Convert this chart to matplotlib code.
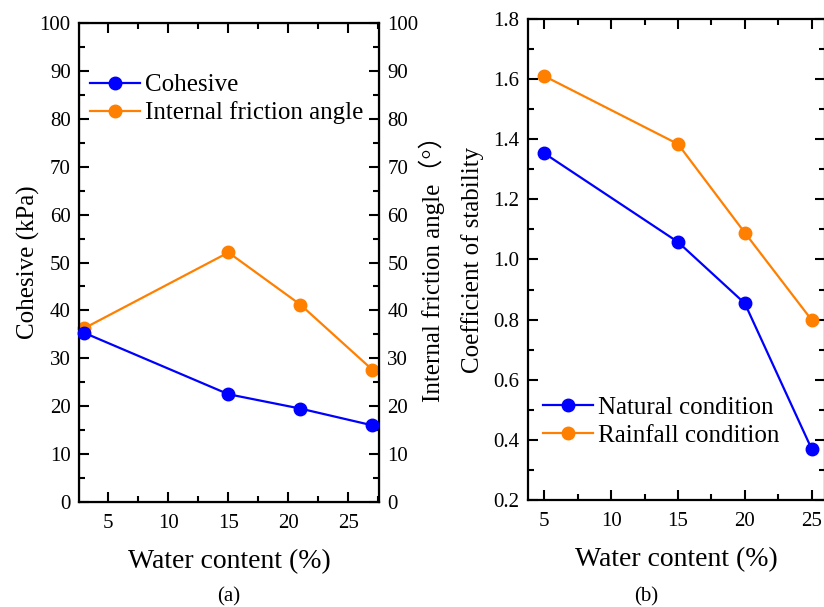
import matplotlib
matplotlib.use("Agg")
import matplotlib.pyplot as plt
from matplotlib.ticker import MultipleLocator

plt.rcParams['font.family'] = ['Liberation Serif', 'Noto Sans CJK SC', 'DejaVu Sans']

# panel (a)
water_a = [3, 15, 21, 27]
cohesive = [35.3, 22.5, 19.5, 16.0]
friction = [36.3, 52.1, 41.2, 27.6]

# panel (b)
water_b = [5, 15, 20, 25]
natural = [1.353, 1.058, 0.854, 0.370]
rainfall = [1.610, 1.384, 1.089, 0.799]

BLUE = '#0000FF'
ORANGE = '#FF8000'


def style_ticks(ax, left=True, right=True):
    ax.tick_params(which='both', direction='in', top=True, bottom=True,
                   left=left, right=right, labelsize=15, width=1.5, pad=6)
    ax.tick_params(which='major', length=7)
    ax.tick_params(which='minor', length=4)
    for s in ax.spines.values():
        s.set_linewidth(1.6)


fig = plt.figure(figsize=(8.24, 6.07), dpi=100)

ax1 = fig.add_axes([0.0959, 0.173, 0.3641, 0.789])
ax1.plot(water_a, cohesive, '-o', color=BLUE, lw=1.6, ms=9, label='Cohesive', clip_on=False, zorder=3)
ax1.plot([], [], '-o', color=ORANGE, lw=1.6, ms=9, label='Internal friction angle')
ax1.set_xlim(2.55, 27.55)
ax1.set_ylim(0, 100)
ax1.xaxis.set_major_locator(MultipleLocator(5))
ax1.xaxis.set_minor_locator(MultipleLocator(2.5))
ax1.yaxis.set_major_locator(MultipleLocator(10))
ax1.yaxis.set_minor_locator(MultipleLocator(5))
style_ticks(ax1, left=True, right=False)
ax1.tick_params(axis='x', pad=9)
ax1.set_ylabel('Cohesive (kPa)', fontsize=18, labelpad=0)
ax1.set_xlabel('Water content (%)', fontsize=20, labelpad=11)
ax1.legend(loc='upper left', bbox_to_anchor=(-0.015, 0.925), frameon=False, fontsize=18,
           handlelength=2.0, handletextpad=0.2, borderaxespad=0.2, labelspacing=0.2)

ax1b = ax1.twinx()
ax1b.plot(water_a, friction, '-o', color=ORANGE, lw=1.6, ms=9, clip_on=False, zorder=3)
ax1b.set_ylim(0, 100)
ax1b.yaxis.set_major_locator(MultipleLocator(10))
ax1b.yaxis.set_minor_locator(MultipleLocator(5))
ax1b.tick_params(which='both', direction='in', left=False, right=True, labelsize=15, width=1.5, pad=6)
ax1b.tick_params(which='major', length=7)
ax1b.tick_params(which='minor', length=4)
ax1b.set_ylabel('Internal friction angle（°）', fontsize=18, labelpad=0)
ax1.set_zorder(ax1b.get_zorder() + 1)
ax1.patch.set_visible(False)

ax2 = fig.add_axes([0.6404, 0.1763, 0.3608, 0.7924])
ax2.plot(water_b, natural, '-o', color=BLUE, lw=1.6, ms=9, label='Natural condition', clip_on=False)
ax2.plot(water_b, rainfall, '-o', color=ORANGE, lw=1.6, ms=9, label='Rainfall condition', clip_on=False)
ax2.set_xlim(3.75, 26.0)
ax2.set_ylim(0.2, 1.8)
ax2.xaxis.set_major_locator(MultipleLocator(5))
ax2.xaxis.set_minor_locator(MultipleLocator(2.5))
ax2.yaxis.set_major_locator(MultipleLocator(0.2))
ax2.yaxis.set_minor_locator(MultipleLocator(0.1))
ax2.yaxis.set_major_formatter(plt.FormatStrFormatter('%.1f'))
style_ticks(ax2)
ax2.tick_params(axis='x', pad=9)
ax2.set_ylabel('Coefficient of stability', fontsize=18, labelpad=7)
ax2.set_xlabel('Water content (%)', fontsize=20, labelpad=11)
ax2.legend(loc='lower left', bbox_to_anchor=(0.0, 0.08), frameon=False, fontsize=18,
           handlelength=2.0, handletextpad=0.2, borderaxespad=0.2, labelspacing=0.2)

fig.text(229 / 824, 1 - 597 / 607, '(a)', ha='center', va='center', fontsize=15)
fig.text(646 / 824, 1 - 597 / 607, '(b)', ha='center', va='center', fontsize=15)

fig.savefig('out.png', dpi=100)
